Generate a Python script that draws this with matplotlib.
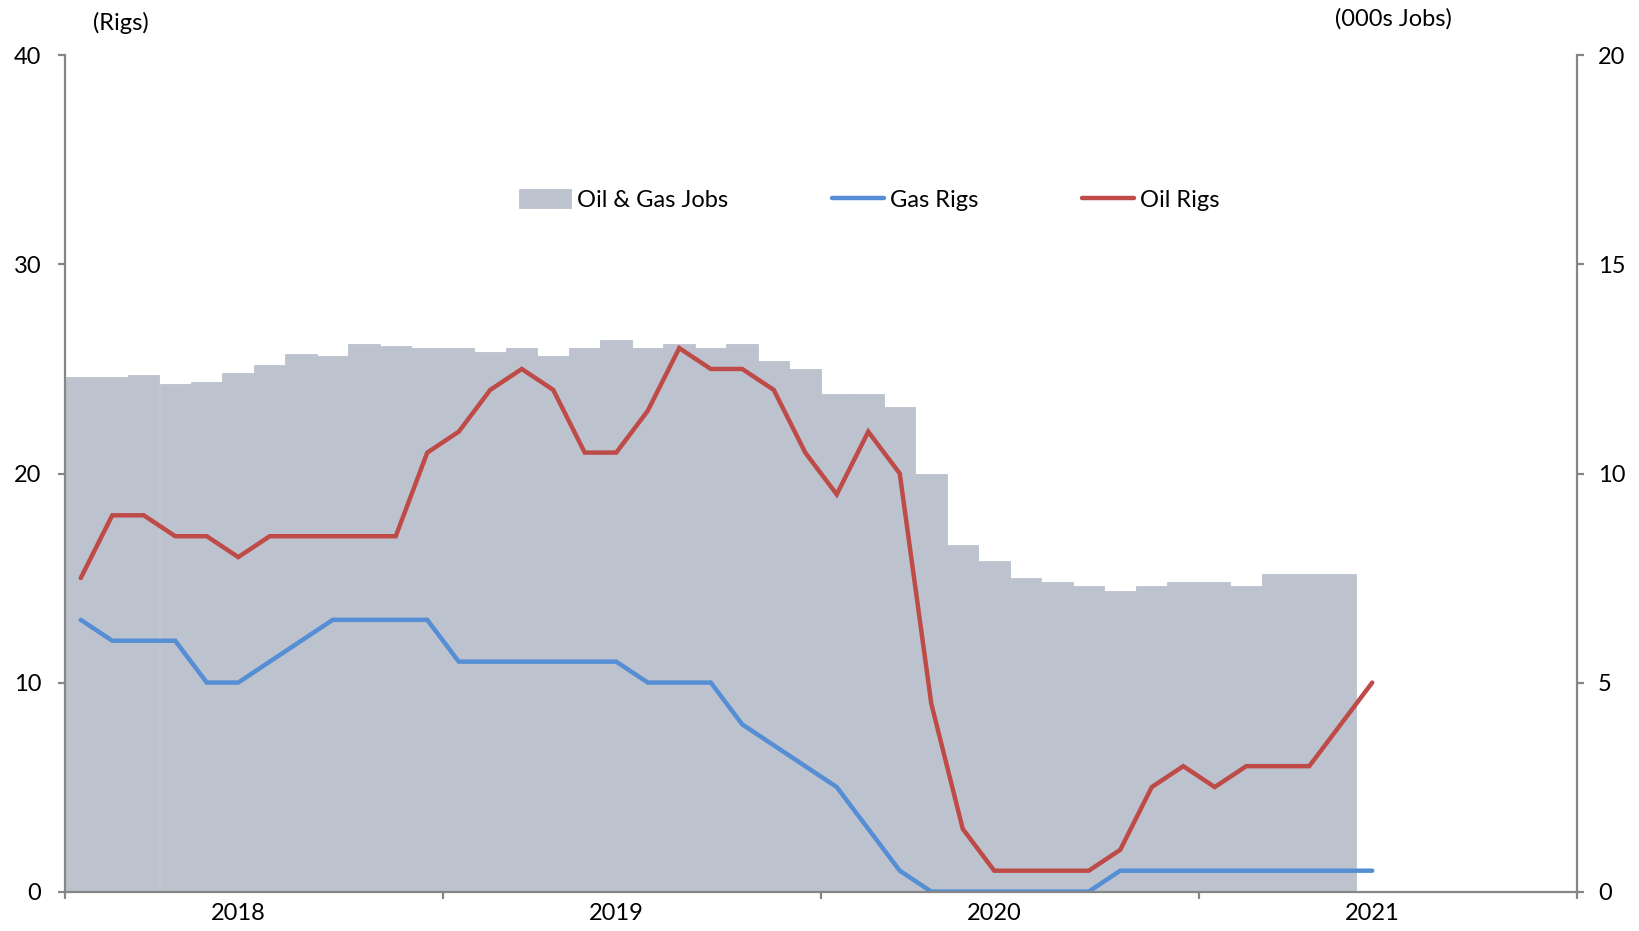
import matplotlib
matplotlib.use("Agg")
import matplotlib.pyplot as plt
from matplotlib.ticker import FixedLocator, NullFormatter, FixedFormatter
import numpy as np

plt.rcParams['font.family'] = ['Lato', 'DejaVu Sans']

years = ["2018", "2019", "2020", "2021"]

# Monthly, Jan 2018 .. May 2021 (thousands of jobs, right axis)
jobs = [12.3, 12.3, 12.35, 12.15, 12.2, 12.4, 12.6, 12.85, 12.8, 13.1,
        13.05, 13.0, 13.0, 12.9, 13.0, 12.8, 13.0, 13.2, 13.0, 13.1,
        13.0, 13.1, 12.7, 12.5, 11.9, 11.9, 11.6, 10.0, 8.3, 7.9,
        7.5, 7.4, 7.3, 7.2, 7.3, 7.4, 7.4, 7.3, 7.6, 7.6, 7.6]

# Monthly, Jan 2018 .. Jun 2021 (rigs, left axis)
gas_rigs = [13, 12, 12, 12, 10, 10, 11, 12, 13, 13,
            13, 13, 11, 11, 11, 11, 11, 11, 10, 10,
            10, 8, 7, 6, 5, 3, 1, 0, 0, 0,
            0, 0, 0, 1, 1, 1, 1, 1, 1, 1,
            1, 1]
oil_rigs = [15, 18, 18, 17, 17, 16, 17, 17, 17, 17,
            17, 21, 22, 24, 25, 24, 21, 21, 23, 26,
            25, 25, 24, 21, 19, 22, 20, 9, 3, 1,
            1, 1, 1, 2, 5, 6, 5, 6, 6, 6,
            8, 10]

W, H = 1639, 931
fig = plt.figure(figsize=(W / 100, H / 100), dpi=100)
x0, x1 = 65, 1577
y0, y1 = 891.6, 55.4
ax = fig.add_axes([x0 / W, (H - y0) / H, (x1 - x0) / W, (y0 - y1) / H])
ax2 = ax.twinx()

bar_color = '#bcc3ce'
red = '#be4b48'
blue = '#558ed5'
axis_gray = '#868686'

xb = np.arange(len(jobs))
bars = ax2.bar(xb, jobs, width=1.0, color=bar_color, edgecolor=bar_color, linewidth=0.6,
               label='Oil & Gas Jobs')
xl = np.arange(len(oil_rigs))
l1, = ax.plot(xl, gas_rigs, color=blue, lw=3.2, solid_capstyle='round', solid_joinstyle='miter', label='Gas Rigs')
l2, = ax.plot(xl, oil_rigs, color=red, lw=3.2, solid_capstyle='round', solid_joinstyle='miter', label='Oil Rigs')

ax.set_zorder(ax2.get_zorder() + 1)
ax.patch.set_visible(False)

ax.set_xlim(-0.5, 47.5)
ax.set_ylim(0, 40)
ax2.set_ylim(0, 20)
ax.set_yticks([0, 10, 20, 30, 40])
ax2.set_yticks([0, 5, 10, 15, 20])

ax.xaxis.set_major_locator(FixedLocator([-0.5, 11.5, 23.5, 35.5, 47.5]))
ax.xaxis.set_major_formatter(NullFormatter())
ax.xaxis.set_minor_locator(FixedLocator([5, 17, 29, 41]))
ax.xaxis.set_minor_formatter(FixedFormatter(years))

for a in (ax, ax2):
    for s in a.spines.values():
        s.set_visible(False)

ax.spines['left'].set_visible(True)
ax.spines['bottom'].set_visible(True)
ax2.spines['right'].set_visible(True)
for sp in (ax.spines['left'], ax.spines['bottom'], ax2.spines['right']):
    sp.set_color(axis_gray)
    sp.set_linewidth(1.6)

fs = 17
ax.tick_params(axis='y', which='major', direction='out', length=5, width=1.6, color=axis_gray,
               labelsize=fs, pad=12, labelcolor='black')
ax2.tick_params(axis='y', which='major', direction='out', length=5, width=1.6, color=axis_gray,
                labelsize=fs, pad=10, labelcolor='black')
ax.tick_params(axis='x', which='major', direction='out', length=5, width=1.6, color=axis_gray)
ax.tick_params(axis='x', which='minor', length=0, labelsize=fs, pad=8, labelcolor='black')

fig.text(121 / W, 1 - 23 / H, '(Rigs)', fontsize=fs, ha='center', va='center')
fig.text(1393 / W, 1 - 19 / H, '(000s Jobs)', fontsize=fs, ha='center', va='center')

leg = ax.legend(handles=[bars, l1, l2], loc='center', bbox_to_anchor=(0.532, 0.827),
                ncol=3, frameon=False, fontsize=fs, handlelength=2.2, handletextpad=0.25,
                columnspacing=4.4, handleheight=0.8)

fig.savefig('out.png', dpi=100)
